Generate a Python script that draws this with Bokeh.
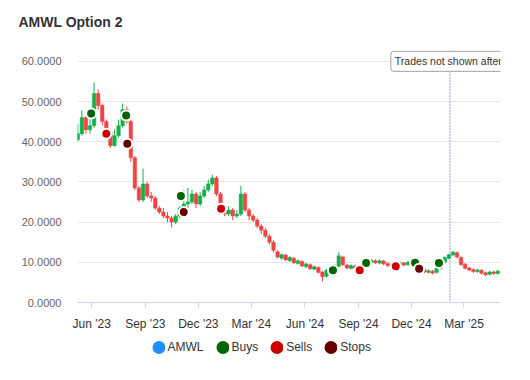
from datetime import datetime
import pandas as pd
from bokeh.plotting import figure
from bokeh.layouts import column
from bokeh.models import (ColumnDataSource, Range1d, FixedTicker, PrintfTickFormatter,
                          DatetimeTickFormatter, Legend, LegendItem, Span, Label)
from bokeh.embed import file_html
from bokeh.resources import INLINE

# ---- data (weekly candles) ----
open_ = [40.5, 42.0, 46.0, 43.0, 44.0, 52.0, 49.0, 45.0, 42.5, 39.0,
         41.5, 44.0, 48.0, 45.0, 36.0, 28.5, 25.5, 29.5, 26.5, 26.0,
         23.5, 22.5, 21.5, 21.0, 20.0, 21.5, 23.5, 24.5, 25.0, 27.0,
         24.5, 26.5, 28.0, 29.5, 31.0, 27.0, 24.0, 22.0, 23.0, 21.5,
         22.0, 27.0, 23.0, 21.5, 20.5, 19.0, 18.0, 16.5, 15.0, 12.6,
         11.0, 11.8, 10.4, 11.0, 9.7, 10.2, 8.9, 9.4, 8.3, 8.7,
         7.6, 6.5, 7.8, 8.4, 9.0, 11.3, 9.3, 8.5, 9.1, 8.3,
         8.8, 9.4, 10.0, 10.4, 9.8, 10.3, 9.7, 9.3, 8.8, 9.2,
         9.8, 9.4, 9.9, 10.2, 9.0, 8.3, 7.5, 7.8, 7.5, 8.5,
         10.0, 11.0, 11.8, 12.4, 11.2, 9.5, 8.6, 8.2, 7.7, 8.0,
         7.4, 7.0, 7.6, 7.2]
close = [42.0, 46.0, 43.0, 44.0, 52.0, 49.0, 45.0, 42.5, 39.0, 41.5,
         44.0, 48.0, 45.0, 36.0, 28.5, 25.5, 29.5, 26.5, 26.0, 23.5,
         22.5, 21.5, 21.0, 20.0, 21.5, 23.5, 24.5, 25.0, 27.0, 24.5,
         26.5, 28.0, 29.5, 31.0, 27.0, 24.0, 22.0, 23.0, 21.5, 22.0,
         27.0, 23.0, 21.5, 20.5, 19.0, 18.0, 16.5, 15.0, 13.0, 11.3,
         11.9, 10.6, 11.2, 9.9, 10.4, 9.1, 9.6, 8.4, 8.9, 7.5,
         6.4, 8.0, 8.6, 9.2, 11.6, 9.4, 8.6, 9.2, 8.4, 8.9,
         9.5, 10.1, 10.5, 9.9, 10.4, 9.6, 9.2, 8.7, 9.3, 9.9,
         9.3, 10.0, 10.4, 9.1, 8.2, 7.6, 7.9, 7.3, 8.6, 10.1,
         11.2, 11.9, 12.5, 11.3, 9.4, 8.5, 8.1, 7.7, 8.1, 7.3,
         6.9, 7.6, 7.2, 7.8]
high = [44.5, 47.8, 46.5, 47.0, 54.7, 53.0, 49.5, 45.5, 43.0, 43.0,
        45.5, 49.5, 48.8, 45.5, 36.5, 29.0, 33.3, 30.0, 27.5, 26.5,
        24.0, 23.5, 22.5, 21.5, 22.0, 24.0, 28.0, 28.5, 28.0, 27.5,
        27.5, 29.0, 30.5, 31.8, 31.5, 27.5, 24.5, 24.0, 23.5, 23.0,
        29.0, 27.5, 23.5, 22.0, 21.0, 19.5, 18.5, 17.0, 15.5, 13.0,
        12.2, 12.1, 11.5, 11.3, 10.7, 10.5, 9.9, 9.7, 9.2, 9.0,
        7.9, 8.3, 8.9, 9.5, 12.5, 11.6, 9.6, 9.5, 9.4, 9.2,
        9.8, 10.4, 10.8, 10.7, 10.7, 10.6, 10.0, 9.6, 9.6, 10.2,
        10.1, 10.3, 10.7, 10.5, 9.3, 8.6, 8.2, 8.1, 8.9, 10.4,
        11.5, 12.2, 12.9, 12.7, 11.5, 9.8, 8.9, 8.5, 8.4, 8.3,
        7.7, 7.9, 7.9, 8.1]
low = [40.0, 41.5, 42.0, 42.0, 43.5, 48.0, 44.0, 41.5, 38.5, 38.8,
       41.0, 43.5, 44.5, 35.0, 28.0, 25.0, 25.0, 26.0, 25.0, 23.0,
       22.0, 21.0, 20.0, 18.7, 19.5, 21.0, 23.0, 23.5, 24.5, 23.5,
       24.0, 26.0, 27.5, 29.0, 26.5, 23.0, 21.5, 21.5, 20.5, 21.0,
       21.5, 22.5, 20.5, 20.0, 18.5, 17.0, 16.0, 14.5, 12.5, 11.0,
       10.7, 10.3, 10.1, 9.6, 9.4, 8.8, 8.6, 8.1, 8.0, 7.2,
       5.2, 6.2, 7.5, 8.1, 8.7, 9.1, 8.3, 8.2, 8.1, 8.0,
       8.5, 9.1, 9.7, 9.6, 9.5, 9.3, 8.9, 8.4, 8.5, 8.9,
       9.0, 9.1, 9.6, 8.8, 7.9, 7.3, 7.2, 7.0, 7.2, 8.2,
       9.7, 10.7, 11.5, 11.0, 9.1, 8.2, 7.8, 7.4, 7.4, 7.0,
       6.6, 6.7, 6.9, 7.0]
dates = pd.date_range("2023-05-08", periods=len(close), freq="7D")

buy_dates = ["2023-05-31", "2023-07-30", "2023-11-01", "2024-07-19",
             "2024-09-14", "2024-12-07", "2025-01-17"]
buy_prices = [47.0, 46.5, 26.5, 8.0, 9.8, 9.9, 9.8]
sell_dates = ["2023-06-26", "2024-01-09", "2024-09-03", "2024-11-04"]
sell_prices = [42.0, 23.3, 8.0, 9.0]
stop_dates = ["2023-08-01", "2023-11-06", "2024-12-14"]
stop_prices = [39.5, 22.5, 8.4]

cutoff_date = "2025-02-05"
tick_dates = ["2023-06-01", "2023-09-01", "2023-12-01", "2024-03-01",
              "2024-06-01", "2024-09-01", "2024-12-01", "2025-03-01"]
y_ticks = [0, 10, 20, 30, 40, 50, 60]
series_names = ["AMWL", "Buys", "Sells", "Stops"]

# ---- styling ----
FONT = "Liberation Sans"
UP, DOWN = "#14b04a", "#f04444"
C_AMWL, C_BUY, C_SELL, C_STOP = "#1e90ff", "#006400", "#cc0000", "#660000"
W = 530
BL, BR = 77, 30

def ms(d):
    return pd.Timestamp(d).value / 1e6

def blank(h, top=0):
    f = figure(width=W, height=h, output_backend="svg", toolbar_location=None,
               x_axis_location=None, y_axis_location=None,
               x_range=Range1d(0, 1), y_range=Range1d(0, 1),
               min_border_left=BL, min_border_right=BR, min_border_top=top,
               min_border_bottom=0)
    f.outline_line_color = None
    f.grid.visible = False
    return f

# ---- title strip ----
t = blank(45)
t.title.text = "AMWL Option 2"
t.title.text_font = FONT
t.title.text_font_size = "14px"
t.title.text_font_style = "bold"
t.title.text_color = "#333333"
t.title.align = "left"
t.title.offset = 18 - BL
t.title.standoff = 22

# ---- main chart ----
colors = [UP if c >= o else DOWN for o, c in zip(open_, close)]
src = ColumnDataSource(dict(x=dates, o=open_, c=close, h=high, l=low,
                            top=[max(a, b) for a, b in zip(open_, close)],
                            bot=[min(a, b) for a, b in zip(open_, close)],
                            color=colors))

p = figure(width=W, height=290, output_backend="svg", toolbar_location=None,
           x_axis_type="datetime",
           x_range=Range1d(datetime(2023, 5, 7, 12), datetime(2025, 5, 2, 16)),
           y_range=Range1d(0, 62.69),
           min_border_left=BL, min_border_right=BR, min_border_top=5, min_border_bottom=33)
p.outline_line_color = None

p.xgrid.grid_line_color = None
p.ygrid.grid_line_color = "#e6e6e6"
p.ygrid.ticker = FixedTicker(ticks=y_ticks)

p.yaxis.ticker = FixedTicker(ticks=y_ticks)
p.yaxis.formatter = PrintfTickFormatter(format="%.4f")
p.yaxis.axis_line_color = None
p.yaxis.major_tick_line_color = None
p.yaxis.minor_tick_line_color = None
p.yaxis.major_label_standoff = 10
p.yaxis.major_label_text_font = FONT
p.yaxis.major_label_text_font_size = "11px"
p.yaxis.major_label_text_color = "#666666"

p.xaxis.ticker = FixedTicker(ticks=[ms(d) for d in tick_dates])
p.xaxis.formatter = DatetimeTickFormatter(days="%b '%y", months="%b '%y", years="%b '%y")
p.xaxis.axis_line_color = "#ccd6eb"
p.xaxis.major_tick_line_color = "#ccd6eb"
p.xaxis.major_tick_out = 5
p.xaxis.major_tick_in = 0
p.xaxis.minor_tick_line_color = None
p.xaxis.major_label_standoff = 9
p.xaxis.major_label_text_font = FONT
p.xaxis.major_label_text_font_size = "12px"
p.xaxis.major_label_text_color = "#333333"

p.segment(x0="x", y0="h", x1="x", y1="l", color="color", line_width=1, source=src)
p.vbar(x="x", width=6 * 86400000, top="top", bottom="bot", fill_color="color",
       line_color="color", line_width=0.5, source=src)

p.add_layout(Span(location=ms(cutoff_date), dimension="height", line_color="#4040c0",
                  line_dash="1 2", line_width=1))
p.add_layout(Label(x=ms("2024-10-26 10:00"), y=60, text="Trades not shown after",
                   text_font=FONT, text_font_size="10.5px", text_color="#333333",
                   text_align="left", text_baseline="middle",
                   background_fill_color="white", border_line_color="#a0a0a0",
                   border_line_width=1, border_radius=3, padding=4))

for dts, prices, col in [(buy_dates, buy_prices, C_BUY), (sell_dates, sell_prices, C_SELL),
                         (stop_dates, stop_prices, C_STOP)]:
    p.scatter(x=pd.to_datetime(dts), y=prices, size=10, fill_color=col,
              line_color="white", line_width=2)

# ---- legend strip ----
lg = blank(45)
leg_r = []
for col in [C_AMWL, C_BUY, C_SELL, C_STOP]:
    leg_r.append(lg.scatter(x=[-5], y=[-5], size=5, fill_color=col, line_color=col,
                            line_width=7.8))
legend = Legend(items=[LegendItem(label=n, renderers=[r]) for n, r in zip(series_names, leg_r)],
                orientation="horizontal", location=(74.5, 26.5),
                glyph_width=13, glyph_height=14, label_height=14,
                label_standoff=3, spacing=12, padding=4, margin=0,
                border_line_color=None, background_fill_alpha=0,
                label_text_font=FONT, label_text_font_size="12px",
                label_text_color="#333333")
lg.add_layout(legend, "center")

layout = column(t, p, lg, spacing=0)
open("out.html", "w").write(file_html(layout, INLINE))
